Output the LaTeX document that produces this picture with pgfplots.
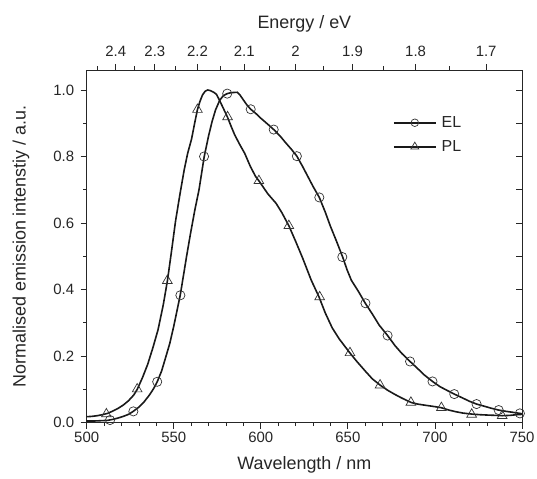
\documentclass[border=0pt]{standalone}
\usepackage{fontspec}
\setmainfont{Liberation Sans}
\usepackage{pgfplots}
\pgfplotsset{compat=1.18}
\usepackage{pgfplotstable}
\usetikzlibrary{calc}
\pgfplotstableread{
x y
500 0.018
503 0.019
506 0.021
509 0.024
512 0.028
515 0.035
518 0.043
521 0.053
524 0.066
527 0.083
529 0.100
532 0.135
535 0.175
538 0.225
541 0.280
544 0.355
546.4 0.428
548.7 0.515
551 0.605
553.5 0.685
556 0.760
558 0.810
560.2 0.852
562 0.900
563.6 0.941
565 0.965
566.5 0.985
568 0.996
569.5 1.000
571 0.998
573 0.993
574.5 0.987
576 0.972
578 0.950
580.8 0.919
583 0.890
585 0.865
588 0.835
590.7 0.810
594 0.770
597 0.740
598.9 0.727
604 0.688
608.8 0.659
612 0.632
616.1 0.592
620 0.545
624 0.495
628.9 0.429
633.5 0.377
637 0.330
641 0.285
645 0.252
651.1 0.210
655 0.185
660 0.155
664 0.132
668.5 0.113
673 0.097
677 0.085
681 0.074
686.2 0.061
690 0.056
695 0.052
699 0.049
703.7 0.045
708 0.038
712 0.033
716 0.029
721 0.026
726 0.024
730 0.023
735 0.022
738.6 0.021
743 0.022
747 0.024
750 0.025
}\PLdata
\pgfplotstableread{
x y
500 0.005
504 0.005
508 0.006
512 0.007
515 0.010
518 0.014
521 0.019
524 0.025
526.7 0.034
530 0.047
533 0.063
536 0.083
538.5 0.103
540.5 0.123
543 0.155
545 0.190
547.7 0.238
550 0.290
552 0.340
553.7 0.383
555.5 0.440
557.3 0.498
559.5 0.565
562.1 0.639
564.5 0.700
567.5 0.800
570 0.862
572 0.905
574 0.940
576.4 0.969
578.5 0.983
580.7 0.989
583 0.992
586.5 0.993
588 0.985
590 0.970
592 0.955
594.2 0.942
597 0.930
600 0.915
604 0.897
607.4 0.881
611 0.862
614 0.843
617.5 0.822
620.7 0.801
624 0.770
627 0.740
630 0.710
633.6 0.677
637 0.633
640 0.590
643.5 0.545
647 0.498
649.5 0.460
652 0.428
656 0.395
660 0.359
664 0.327
668 0.293
672.8 0.262
677 0.232
681 0.208
685.7 0.184
690 0.163
694 0.143
698.6 0.124
703 0.108
707 0.097
711.1 0.086
716 0.074
720 0.064
723.9 0.056
728 0.050
732 0.044
736.5 0.038
741 0.034
745 0.031
750 0.027
}\ELdata
\pgfplotstableread{
x y
513.4 0.008
526.8 0.034
540.5 0.123
553.8 0.383
567.4 0.800
580.7 0.989
594.2 0.942
607.4 0.881
620.7 0.801
633.6 0.677
646.8 0.498
660.1 0.359
672.8 0.262
685.7 0.184
698.6 0.124
711.1 0.086
723.9 0.056
736.6 0.038
748.8 0.028
}\ELmarks
\pgfplotstableread{
x y
511.3 0.026
529.0 0.101
546.3 0.427
563.6 0.941
580.9 0.919
598.9 0.727
616.1 0.592
633.8 0.378
651.2 0.210
668.5 0.113
686.2 0.061
703.7 0.045
721.1 0.025
738.6 0.021
}\PLmarks
\begin{document}
\begin{tikzpicture}
\pgfplotsset{
  base/.style={
    scale only axis, width=435.3bp, height=352.7bp,
    xmin=500, xmax=750, ymin=0, ymax=1.06,
    /pgf/number format/assume math mode=true,
    tick label style={font=\fontsize{15}{18}\selectfont, text=black!85},
    label style={font=\fontsize{18}{21}\selectfont, text=black!85},
    axis line style={line width=0.9bp, black!85},
    every tick/.style={line width=0.8bp, black!85},
    major tick length=6bp, minor tick length=3.5bp,
  }
}
\begin{axis}[base, name=main,
  xtick={500,550,...,750}, minor x tick num=4,
  ytick={0,0.2,0.4,0.6,0.8,1.0}, minor y tick num=1,
  xtick pos=bottom, ytick pos=left, tick align=outside,
  yticklabel style={xshift=-3bp, /pgf/number format/.cd, fixed, fixed zerofill, precision=1},
  xlabel={Wavelength / nm},
  ylabel={Normalised emission intenstiy / a.u.},
  xlabel style={at={(axis description cs:0.5,-0.134)}, anchor=base},
  ylabel style={at={(axis description cs:-0.151,0.5)}, rotate=0, anchor=center},
  legend style={draw=none, fill=none, at={(rel axis cs:0.703,0.8165)}, anchor=west,
    font=\fontsize{16}{19}\selectfont, text=black!85, inner sep=0pt, row sep=7.5bp,
    nodes={inner xsep=5bp}},
  legend cell align=left,
  legend image code/.code={\draw[#1, mark repeat=2, mark phase=2] plot coordinates {(0bp,0bp) (21bp,0bp) (42bp,0bp)};},
]
\addplot[forget plot, black!90, line width=1.6bp] table[x=x,y=y] {\ELdata};
\addplot[forget plot, black!90, line width=1.6bp] table[x=x,y=y] {\PLdata};
\addplot[forget plot, only marks, mark=o, mark size=4.6bp, mark options={fill=white, draw=black!80, line width=0.7bp}] table[x=x,y=y] {\ELmarks};
\addplot[forget plot, only marks, mark=triangle, mark size=5.6bp, mark options={fill=white, draw=black!80, line width=0.7bp}] table[x=x,y=y] {\PLmarks};
\addlegendimage{black!90, line width=1.8bp, mark=o, mark size=3.8bp, mark options={fill=white, draw=black!80, line width=0.7bp}}
\addlegendentry{EL}
\addlegendimage{black!90, line width=1.8bp, mark=triangle, mark size=4.6bp, mark options={fill=white, draw=black!80, line width=0.7bp}}
\addlegendentry{PL}
\coordinate (SW) at (rel axis cs:0,0);
\end{axis}
\begin{axis}[base,
  axis x line*=top, axis y line=none,
  tick align=outside,
  xtick={516.67,539.13,563.64,590.48,620,652.63,688.89,729.41},
  xticklabels={2.4,2.3,2.2,2.1,2,1.9,1.8,1.7},
  minor xtick={506.12,527.66,551.11,576.74,604.88,635.90,670.27,708.57},
  xticklabel style={yshift=4bp},
  xlabel={Energy / eV},
  xlabel style={at={(axis description cs:0.5,1.119)}, anchor=base},
]
\end{axis}
\begin{axis}[base,
  axis y line*=right, axis x line=none,
  tick align=inside,
  ytick={0,0.1,...,1.0}, yticklabels={},
]
\end{axis}
\pgfresetboundingbox
\path[use as bounding box] ($(SW)+(-86.7bp,-56.3bp)$) rectangle ++(537bp,479bp);
\end{tikzpicture}
\end{document}
